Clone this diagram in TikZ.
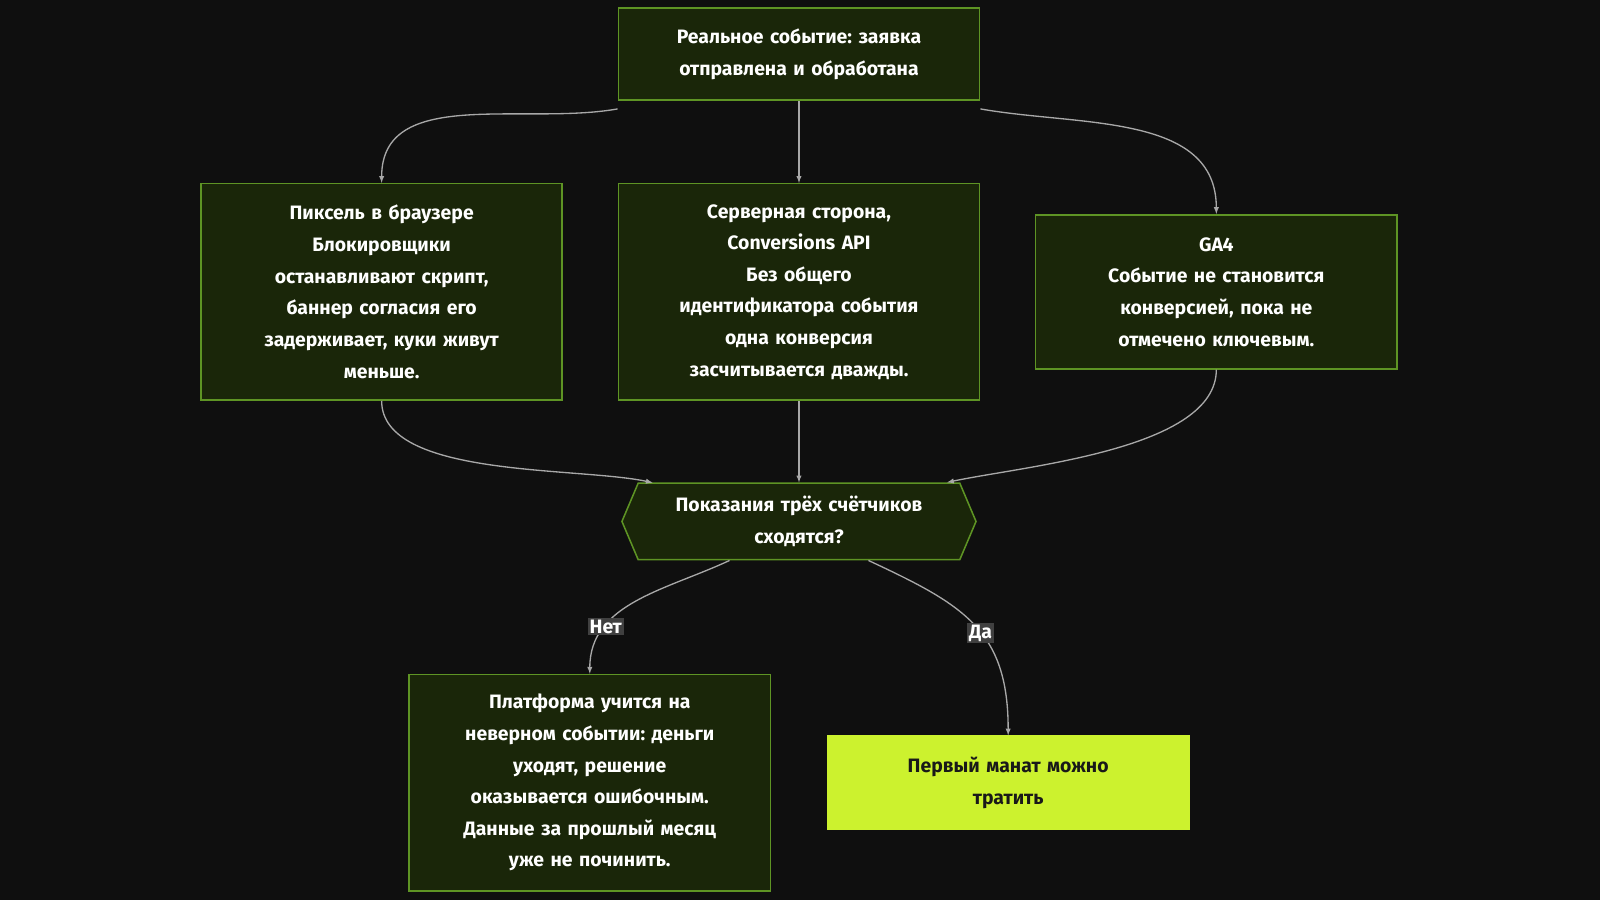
\documentclass[tikz,border=0pt]{standalone}
\usepackage{fontspec}
\setmainfont{Fira Sans}
\frenchspacing
\usetikzlibrary{shapes.symbols}
\definecolor{bgc}{HTML}{0F0F0F}
\definecolor{boxc}{HTML}{1A2609}
\definecolor{edgec}{HTML}{5E9424}
\definecolor{limec}{HTML}{CCF22E}
\definecolor{linec}{HTML}{A8A8A8}
\begin{document}
\begin{tikzpicture}[x=1pt, y=-1pt,
  box/.style={draw=edgec, line width=1.5pt, fill=boxc, text=white, align=center,
    text width=310pt, minimum width=354pt, inner sep=0pt,
    font=\fontsize{19}{31}\selectfont\bfseries},
  arr/.style={draw=linec, line width=1.3pt, -latex},
  lbl/.style={fill=black!75!white, text=white, inner sep=2pt, font=\fontsize{19}{22}\selectfont\bfseries}]

  \fill[bgc] (0,0) rectangle (1568,882);
  \useasboundingbox (0,0) rectangle (1568,882);

  % Boxes
  \node[box, minimum height=90pt] (event) at (783,53) {Реальное событие: заявка\\отправлена и обработана};
  \node[box, minimum height=212pt] (pixel) at (374,286) {Пиксель в браузере\\Блокировщики\\останавливают скрипт,\\баннер согласия его\\задерживает, куки живут\\меньше.};
  \node[box, minimum height=212pt] (server) at (783,286) {Серверная сторона,\\Conversions API\\Без общего\\идентификатора события\\одна конверсия\\засчитывается дважды.};
  \node[box, minimum height=151pt] (ga) at (1192,286) {GA4\\Событие не становится\\конверсией, пока не\\отмечено ключевым.};
  \node[box, shape=signal, signal to=east and west, signal pointer angle=134,
    minimum width=347pt, minimum height=75pt, text width=300pt] (check) at (783,511) {Показания трёх счётчиков\\сходятся?};
  \node[box, minimum height=212pt] (fail) at (578,767) {Платформа учится на\\неверном событии: деньги\\уходят, решение\\оказывается ошибочным.\\Данные за прошлый месяц\\уже не починить.};
  \node[box, minimum height=91pt, fill=limec, draw=limec, text=black!90] (spend) at (988,767) {Первый манат можно\\тратить};

  % Connectors
  \draw[arr] ([yshift=-8pt]event.south west) to[out=190, in=90] (pixel.north);
  \draw[arr] (event.south) -- (server.north);
  \draw[arr] ([yshift=-8pt]event.south east) to[out=-10, in=90] (ga.north);
  \draw[arr] (pixel.south) to[out=-90, in=168, looseness=0.7] ([xshift=15pt]check.north west);
  \draw[arr] (server.south) -- (check.north);
  \draw[arr] (ga.south) to[out=-90, in=12, looseness=0.7] ([xshift=-13pt]check.north east);
  \draw[arr] ([xshift=90pt]check.south west) to[out=205, in=90] node[lbl, pos=0.72] {Нет} (fail.north);
  \draw[arr] ([xshift=-90pt]check.south east) to[out=-25, in=90, looseness=1.2] node[lbl, pos=0.55] {Да} (spend.north);
\end{tikzpicture}
\end{document}
